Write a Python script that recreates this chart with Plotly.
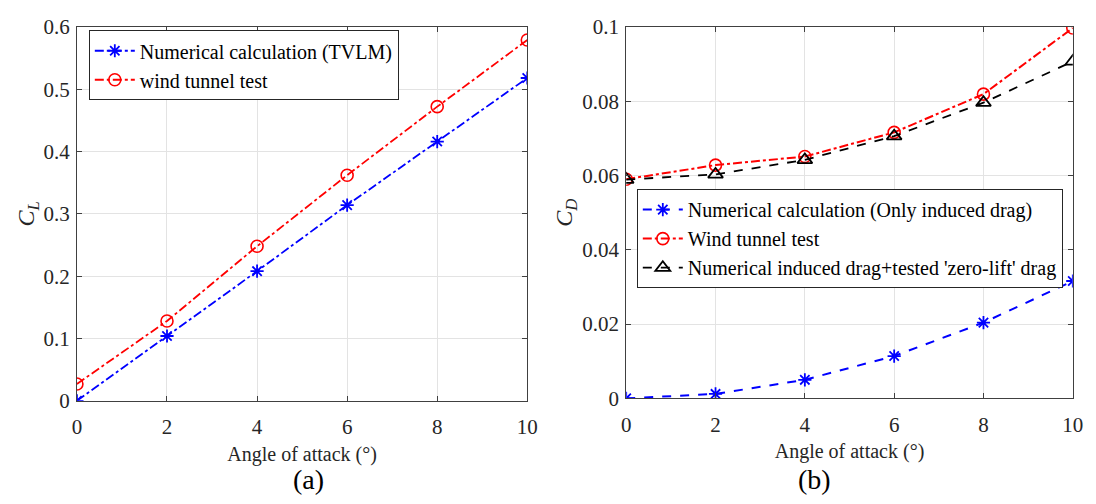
import plotly.graph_objects as go

# Angle of attack (deg)
alpha = [0, 2, 4, 6, 8, 10]

# Lift coefficient
cl_tvlm = [0.0, 0.104, 0.208, 0.314, 0.416, 0.518]
cl_tunnel = [0.027, 0.128, 0.248, 0.362, 0.472, 0.579]

# Drag coefficient
cd_induced = [0.0, 0.0012, 0.0050, 0.0114, 0.0204, 0.0316]
cd_tunnel = [0.0590, 0.0628, 0.0651, 0.0716, 0.0819, 0.0997]
cd_combined = [0.0589, 0.0603, 0.0642, 0.0706, 0.0796, 0.0907]

x_ticks = [0, 2, 4, 6, 8, 10]
cl_ticks = [0, 0.1, 0.2, 0.3, 0.4, 0.5, 0.6]
cl_ticktext = ["0", "0.1", "0.2", "0.3", "0.4", "0.5", "0.6"]
cd_ticks = [0, 0.02, 0.04, 0.06, 0.08, 0.1]
cd_ticktext = ["0", "0.02", "0.04", "0.06", "0.08", "0.1"]

FONT = "Liberation Serif"
TXT = "#262626"

fig = go.Figure()

fig.add_trace(go.Scatter(
    x=alpha, y=cl_tvlm, mode="lines+markers", name="Numerical calculation (TVLM)",
    line=dict(color="#0000ff", width=1.8, dash="dashdot"),
    marker=dict(symbol="asterisk-open", size=11, color="#0000ff", line=dict(color="#0000ff", width=1.8)),
    xaxis="x", yaxis="y", legend="legend"))
fig.add_trace(go.Scatter(
    x=alpha, y=cl_tunnel, mode="lines+markers", name="wind tunnel test",
    line=dict(color="#ff0000", width=1.8, dash="dashdot"),
    marker=dict(symbol="circle-open", size=12, color="#ff0000", line=dict(color="#ff0000", width=1.6)),
    xaxis="x", yaxis="y", legend="legend"))

fig.add_trace(go.Scatter(
    x=alpha, y=cd_induced, mode="lines+markers", name="Numerical calculation (Only induced drag)",
    line=dict(color="#0000ff", width=2, dash="dash"),
    marker=dict(symbol="asterisk-open", size=11, color="#0000ff", line=dict(color="#0000ff", width=1.8)),
    xaxis="x2", yaxis="y2", legend="legend2"))
fig.add_trace(go.Scatter(
    x=alpha, y=cd_tunnel, mode="lines+markers", name="Wind tunnel test",
    line=dict(color="#ff0000", width=2, dash="dashdot"),
    marker=dict(symbol="circle-open", size=12, color="#ff0000", line=dict(color="#ff0000", width=1.6)),
    xaxis="x2", yaxis="y2", legend="legend2"))
fig.add_trace(go.Scatter(
    x=alpha, y=cd_combined, mode="lines+markers", name="Numerical induced drag+tested 'zero-lift' drag",
    line=dict(color="#000000", width=1.8, dash="dash"),
    marker=dict(symbol="triangle-up-open", size=13, color="#000000", line=dict(color="#000000", width=1.8)),
    xaxis="x2", yaxis="y2", legend="legend2"))


def axis(**kw):
    base = dict(
        showline=True, linecolor="#404040", linewidth=1, mirror="ticks",
        ticks="inside", ticklen=5, tickcolor="#404040",
        showgrid=True, gridcolor="#e3e3e3", gridwidth=1,
        zeroline=False,
        tickfont=dict(family=FONT, size=21, color=TXT),
    )
    base.update(kw)
    return base


xtitle = dict(text="Angle of attack (°)", font=dict(family=FONT, size=20, color=TXT), standoff=8)
ytitle_font = dict(family=FONT, size=24, color=TXT)
legend_style = dict(xanchor="left", yanchor="top",
                    bordercolor="#262626", borderwidth=1, bgcolor="white",
                    font=dict(family=FONT, size=20, color="#000000"),
                    itemwidth=40, tracegroupgap=0)

fig.update_layout(
    width=1096, height=504,
    margin=dict(l=0, r=0, t=0, b=0),
    paper_bgcolor="white", plot_bgcolor="white",
    font=dict(family=FONT, size=20, color=TXT),
    xaxis=axis(domain=[0.0666, 0.4836], range=[0, 10], tickvals=x_ticks, anchor="y",
               ticklabelstandoff=7, title=xtitle),
    yaxis=axis(domain=[0.190, 0.969], range=[0, 0.6], tickvals=cl_ticks, ticktext=cl_ticktext, anchor="x",
               ticklabelstandoff=2,
               title=dict(text="<i>C</i><sub><i>L</i></sub>", font=ytitle_font, standoff=2)),
    xaxis2=axis(domain=[0.5752, 0.9887], range=[0, 10], tickvals=x_ticks, anchor="y2",
                ticklabelstandoff=7, title=xtitle),
    yaxis2=axis(domain=[0.195, 0.969], range=[0, 0.1], tickvals=cd_ticks, ticktext=cd_ticktext, anchor="x2",
                ticklabelstandoff=2,
                title=dict(text="<i>C</i><sub><i>D</i></sub>", font=ytitle_font, standoff=2)),
    legend=dict(x=0.0776, y=0.962, **legend_style),
    legend2=dict(x=0.585, y=0.631, **legend_style),
    annotations=[
        dict(text="(a)", x=0.2646, y=0.026, xref="paper", yref="paper", yanchor="middle", showarrow=False,
             font=dict(family=FONT, size=28, color="#000000")),
        dict(text="(b)", x=0.767, y=0.026, xref="paper", yref="paper", yanchor="middle", showarrow=False,
             font=dict(family=FONT, size=28, color="#000000")),
    ],
)

fig.write_html("out.html")
